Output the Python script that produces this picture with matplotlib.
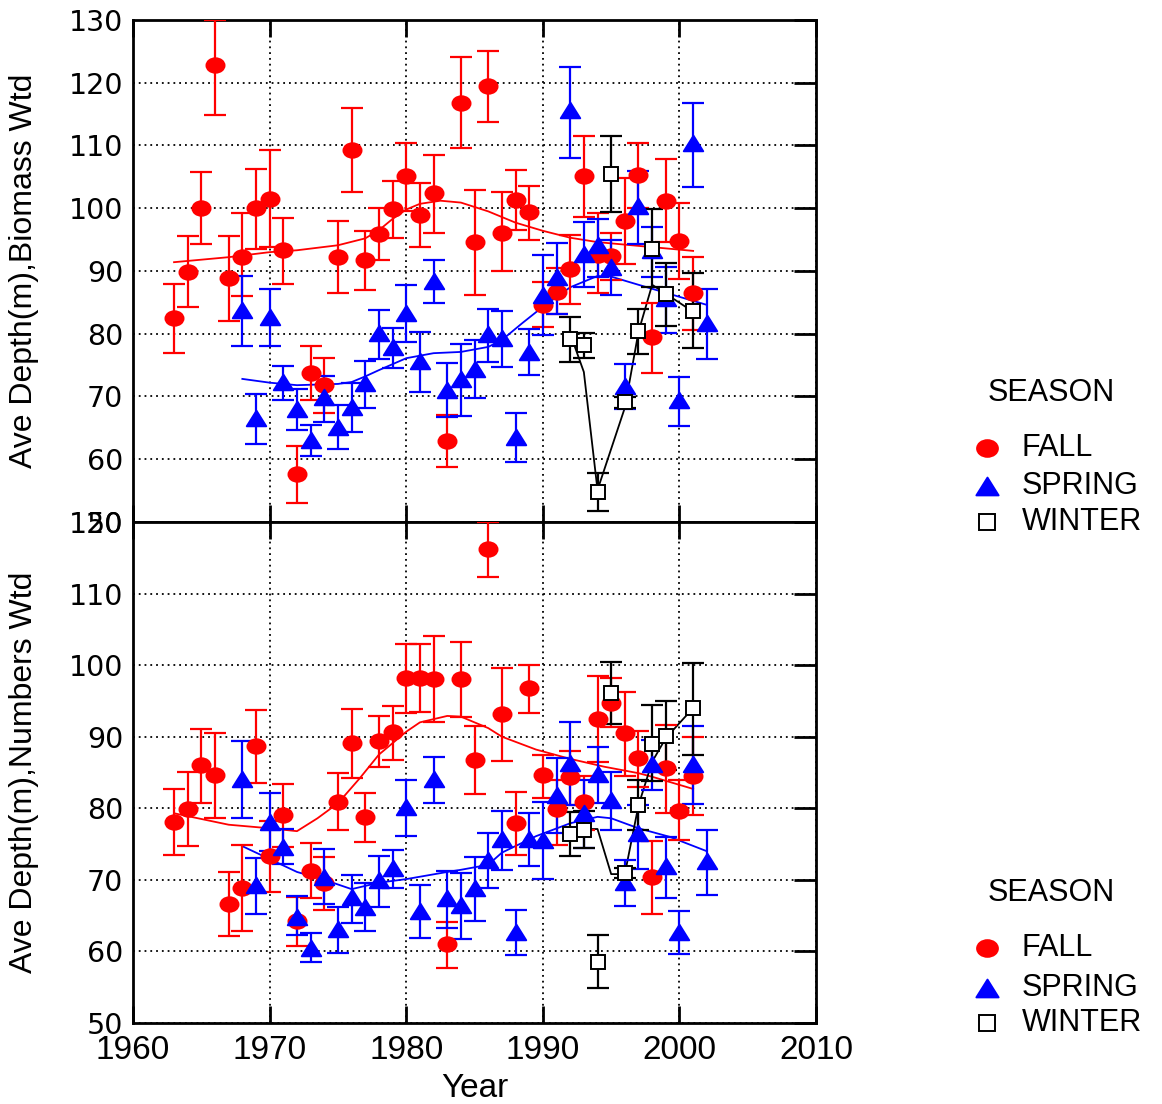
import numpy as np
import matplotlib
matplotlib.use("Agg")
import matplotlib.pyplot as plt
from matplotlib.lines import Line2D
from matplotlib.path import Path
from matplotlib.transforms import Affine2D

# ---------------- data ----------------
fall_years = list(range(1963, 2002))
spring_years = list(range(1968, 2003))
winter_years = [1992, 1993, 1994, 1995, 1996, 1997, 1998, 1999, 2001]

# top panel: biomass weighted
bio_fall = [82.5, 89.8, 100.0, 122.9, 88.9, 92.3, 100.0, 101.4, 93.3, 57.6,
            73.7, 71.8, 92.2, 109.2, 91.8, 95.9, 99.9, 105.1, 98.9, 102.4,
            62.9, 116.8, 94.6, 119.5, 96.1, 101.3, 99.4, 84.6, 86.7, 90.3,
            105.1, 92.5, 92.4, 98.0, 105.3, 79.5, 101.2, 94.8, 86.5]
bio_fall_lo = [76.9, 84.3, 94.3, 114.8, 82.0, 86.0, 93.5, 93.8, 88.0, 53.0,
               69.4, 67.4, 86.5, 102.6, 87.0, 91.8, 95.3, 99.6, 93.8, 96.0,
               58.8, 109.6, 86.2, 113.7, 90.0, 96.5, 94.9, 81.0, 83.2, 84.8,
               98.6, 86.5, 88.5, 91.1, 100.0, 73.7, 94.6, 88.8, 80.6]
bio_fall_hi = [87.9, 95.5, 105.8, 130.0, 95.5, 99.3, 106.3, 109.2, 98.5, 62.1,
               78.0, 76.1, 97.9, 115.9, 96.4, 100.0, 104.3, 110.4, 104.0, 108.5,
               67.0, 124.1, 102.9, 125.0, 102.6, 106.1, 103.5, 88.2, 90.5, 95.7,
               111.5, 99.3, 96.1, 104.8, 110.4, 84.9, 107.8, 100.8, 92.3]

bio_spring = [83.8, 66.6, 82.7, 72.3, 68.0, 63.1, 69.9, 65.1, 68.3, 72.2,
              80.1, 77.9, 83.3, 75.7, 88.4, 71.0, 72.8, 74.4, 80.0, 79.3,
              63.5, 77.1, 86.1, 89.0, 115.6, 92.7, 94.1, 90.6, 71.7, 100.4,
              93.4, 85.7, 69.4, 110.4, 81.7]
bio_spring_lo = [78.0, 62.4, 78.0, 69.4, 64.6, 60.5, 66.0, 61.6, 64.3, 68.2,
                 76.0, 74.5, 78.7, 70.7, 84.9, 66.7, 66.9, 69.8, 75.5, 74.7,
                 59.6, 73.4, 79.8, 83.1, 108.0, 87.5, 89.0, 86.2, 68.0, 94.3,
                 89.0, 80.1, 65.3, 103.4, 76.0]
bio_spring_hi = [89.2, 70.4, 87.1, 74.9, 71.2, 65.5, 73.3, 68.6, 72.2, 75.7,
                 83.8, 80.9, 87.8, 80.3, 91.8, 75.3, 78.4, 79.0, 83.9, 83.6,
                 67.4, 80.8, 92.5, 94.5, 122.5, 97.8, 98.3, 95.0, 75.2, 105.9,
                 97.0, 90.6, 73.1, 116.8, 87.1]

bio_winter = [79.2, 78.2, 54.8, 105.5, 69.1, 80.4, 93.5, 86.3, 83.6]
bio_winter_lo = [75.5, 76.1, 51.8, 99.4, 68.2, 76.8, 87.5, 81.2, 77.7]
bio_winter_hi = [82.7, 80.1, 57.8, 111.5, 69.9, 83.9, 99.9, 91.3, 89.7]

# smoothed fits (top)
bio_fall_fit_x = [1963, 1967, 1970, 1972, 1975, 1977, 1978, 1979, 1980, 1981,
                  1982.5, 1984, 1986, 1988, 1990, 1992, 1994, 1998, 2001]
bio_fall_fit_y = [91.4, 92.2, 93.0, 93.3, 94.1, 95.2, 96.5, 98.3, 99.8, 100.7,
                  101.2, 100.9, 99.5, 97.7, 96.4, 95.3, 94.6, 93.8, 93.2]
bio_spring_fit_x = [1968, 1970, 1972, 1975, 1976, 1977, 1978, 1980, 1982, 1984,
                    1986, 1987, 1988.5, 1990, 1992, 1994, 1995, 1997, 1999.5, 2002]
bio_spring_fit_y = [72.8, 72.2, 71.8, 72.0, 72.3, 73.2, 74.2, 76.1, 76.9, 77.1,
                    77.9, 79.0, 81.7, 84.3, 87.4, 89.2, 89.1, 87.8, 86.2, 84.6]
bio_winter_fit_x = [1992, 1993, 1994, 1996, 1997, 1998, 2001]
bio_winter_fit_y = [80.0, 73.9, 55.1, 68.2, 80.3, 87.8, 83.5]

# bottom panel: numbers weighted
num_fall = [78.1, 79.9, 86.0, 84.7, 66.6, 68.9, 88.7, 73.3, 79.1, 64.2,
            71.2, 69.6, 80.9, 89.1, 78.8, 89.4, 90.7, 98.2, 98.2, 98.1,
            61.0, 98.1, 86.7, 116.2, 93.2, 78.0, 96.8, 84.6, 79.9, 84.4,
            80.9, 92.5, 94.7, 90.5, 87.0, 70.4, 85.6, 79.6, 84.5]
num_fall_lo = [73.5, 74.7, 80.8, 78.6, 62.2, 62.9, 83.5, 68.3, 74.6, 60.8,
               67.5, 65.8, 77.0, 84.2, 75.3, 85.8, 86.7, 93.3, 93.4, 92.1,
               57.7, 92.8, 82.0, 112.3, 86.6, 73.5, 93.3, 81.5, 74.9, 80.5,
               77.0, 86.5, 91.4, 84.5, 83.0, 65.2, 79.3, 75.6, 79.1]
num_fall_hi = [82.7, 85.1, 91.1, 90.5, 71.1, 74.9, 93.7, 78.2, 83.4, 67.6,
               75.1, 73.2, 84.9, 93.9, 82.1, 92.9, 94.3, 103.0, 103.0, 104.0,
               64.1, 103.2, 91.5, 120.0, 99.6, 82.3, 100.0, 87.5, 84.0, 88.0,
               84.5, 98.5, 98.2, 96.2, 90.8, 75.4, 91.6, 84.0, 90.0]

num_spring = [84.1, 69.3, 78.1, 74.6, 64.8, 60.5, 70.4, 63.1, 67.6, 66.2,
              70.0, 71.6, 80.2, 65.6, 84.1, 67.5, 66.5, 68.9, 72.8, 75.7,
              62.7, 75.7, 75.6, 81.8, 86.3, 79.3, 84.8, 81.2, 69.7, 76.5,
              86.2, 71.9, 62.7, 86.2, 72.6]
num_spring_lo = [78.6, 65.2, 74.0, 72.2, 62.3, 58.5, 66.6, 59.8, 64.0, 62.9,
                 66.2, 68.9, 76.1, 61.9, 80.7, 63.3, 61.7, 64.2, 68.9, 71.4,
                 59.5, 71.9, 70.1, 76.6, 80.5, 74.4, 80.7, 77.0, 66.3, 71.5,
                 82.5, 67.5, 59.6, 80.6, 67.9]
num_spring_hi = [89.4, 73.1, 82.1, 77.1, 67.8, 62.6, 74.3, 66.2, 70.7, 69.6,
                 73.3, 74.2, 84.0, 69.3, 87.2, 71.2, 71.0, 73.2, 76.5, 79.6,
                 65.8, 79.3, 80.9, 87.0, 92.0, 84.0, 88.6, 85.1, 72.8, 80.5,
                 89.5, 76.0, 65.7, 91.5, 77.0]

num_winter = [76.4, 77.0, 58.5, 96.1, 71.0, 80.4, 89.0, 90.1, 94.0]
num_winter_lo = [73.3, 74.4, 54.9, 91.8, 70.3, 77.0, 83.8, 85.3, 87.4]
num_winter_hi = [79.5, 79.6, 62.3, 100.4, 71.7, 84.0, 94.4, 95.0, 100.3]

num_fall_fit_x = [1963, 1967, 1970, 1972, 1973.5, 1975, 1976.6, 1978, 1980, 1981,
                  1983, 1984, 1986, 1987, 1989.5, 1992, 1994.5, 1997, 1998, 2001]
num_fall_fit_y = [79.3, 77.7, 77.2, 76.8, 78.6, 80.7, 84.2, 87.5, 90.7, 92.0,
                  92.9, 92.8, 91.2, 90.0, 88.2, 86.9, 85.8, 84.9, 84.4, 82.7]
num_spring_fit_x = [1968, 1970, 1972, 1974, 1976, 1978, 1980, 1983, 1984, 1986,
                    1987, 1989.5, 1992, 1994, 1995, 1997, 1999.3, 2002]
num_spring_fit_y = [74.7, 72.9, 71.1, 70.0, 68.7, 69.6, 70.1, 71.1, 71.4, 72.1,
                    73.8, 76.1, 77.9, 78.8, 78.6, 77.2, 76.0, 74.0]
num_winter_fit_x = [1992, 1993, 1994, 1995, 1996, 1997, 1998, 1999, 2001]
num_winter_fit_y = [76.4, 77.1, 77.1, 70.8, 70.8, 80.4, 86.5, 89.8, 94.0]

season_names = ["FALL", "SPRING", "WINTER"]
season_colors = ["#ff0000", "#0000ff", "#000000"]

# ---------------- styling ----------------
ellipse = Path.unit_circle().transformed(Affine2D().scale(1.0, 0.8))
tri = Path([(0, 0.8), (-1, -0.8), (1, -0.8), (0, 0.8)],
           [Path.MOVETO, Path.LINETO, Path.LINETO, Path.CLOSEPOLY])

sans = ["Liberation Sans", "DejaVu Sans"]
wide = ["DejaVu Sans"]

fig = plt.figure(figsize=(11.62, 11.04), dpi=100)
ax1 = fig.add_axes([0.1145, 0.5272, 0.5878, 0.4547])
ax2 = fig.add_axes([0.1145, 0.0734, 0.5878, 0.4538], sharex=ax1)


def draw_series(ax, x, y, lo, hi, color, marker, ms, mfc):
    y = np.array(y)
    err = [y - np.array(lo), np.array(hi) - y]
    ax.errorbar(x, y, yerr=err, fmt="none", ecolor=color, elinewidth=1.6,
                capsize=8, capthick=1.6, zorder=3, clip_on=True)
    ax.plot(x, y, linestyle="none", marker=marker, markersize=ms,
            markerfacecolor=mfc, markeredgecolor=color, markeredgewidth=1.4,
            zorder=4)


def panel(ax, fall, spring, winter, fits, ylo, yhi):
    for (fx, fy), c in zip(fits, season_colors):
        ax.plot(fx, fy, color=c, linewidth=1.3, zorder=3)
    draw_series(ax, fall_years, *fall, "#ff0000", ellipse, 13, "#ff0000")
    draw_series(ax, spring_years, *spring, "#0000ff", tri, 14, "#0000ff")
    draw_series(ax, winter_years, *winter, "#000000", "s", 10, "white")
    ax.set_xlim(1960, 2010)
    ax.set_ylim(ylo, yhi)
    ax.set_xticks(range(1960, 2011, 10))
    ax.set_yticks(range(ylo, yhi + 1, 10))
    ax.grid(True, color="k", linestyle=(0, (1, 2.2)), linewidth=1.3, zorder=1)
    ax.set_axisbelow(True)
    for s in ax.spines.values():
        s.set_linewidth(2)
    ax.tick_params(axis="x", direction="in", top=True, bottom=True,
                   length=12, width=2, pad=9)
    ax.tick_params(axis="y", direction="in", left=False, right=True,
                   labelleft=True, length=16, width=2, pad=7)
    for t in ax.get_yticklabels():
        t.set_family(wide)
        t.set_fontsize(20.5)
    for t in ax.get_xticklabels():
        t.set_family(sans)
        t.set_fontsize(24)


panel(ax1, (bio_fall, bio_fall_lo, bio_fall_hi),
      (bio_spring, bio_spring_lo, bio_spring_hi),
      (bio_winter, bio_winter_lo, bio_winter_hi),
      [(bio_fall_fit_x, bio_fall_fit_y), (bio_spring_fit_x, bio_spring_fit_y),
       (bio_winter_fit_x, bio_winter_fit_y)], 50, 130)
panel(ax2, (num_fall, num_fall_lo, num_fall_hi),
      (num_spring, num_spring_lo, num_spring_hi),
      (num_winter, num_winter_lo, num_winter_hi),
      [(num_fall_fit_x, num_fall_fit_y), (num_spring_fit_x, num_spring_fit_y),
       (num_winter_fit_x, num_winter_fit_y)], 50, 120)
ax1.tick_params(axis="x", labelbottom=False)

ax1.set_ylabel("Ave Depth(m),Biomass Wtd", family=sans, fontsize=23)
ax2.set_ylabel("Ave Depth(m),Numbers Wtd", family=sans, fontsize=23)
ax2.set_xlabel("Year", family=sans, fontsize=24, labelpad=5)
ax1.yaxis.set_label_coords(-0.137, 0.5)
ax2.yaxis.set_label_coords(-0.137, 0.5)

# legends
legend_markers = [(ellipse, 15, "#ff0000"), (tri, 16, "#0000ff"), ("s", 12, "white")]
for title_y, item_ys in [(0.644, [0.5942, 0.5598, 0.5272]),
                         (0.1911, [0.1413, 0.1051, 0.0734])]:
    fig.text(0.8503, title_y, "SEASON", family=sans,
             fontsize=22, va="center", ha="left")
    for (m, ms, mfc), c, name, yy in zip(legend_markers, season_colors,
                                         season_names, item_ys):
        fig.add_artist(Line2D([0.8494], [yy], marker=m, markersize=ms,
                              markerfacecolor=mfc, markeredgecolor=c,
                              markeredgewidth=1.4, linestyle="none",
                              transform=fig.transFigure))
        fig.text(0.8795, yy, name, family=sans, fontsize=22,
                 va="center", ha="left")

fig.savefig("out.png", dpi=100)
